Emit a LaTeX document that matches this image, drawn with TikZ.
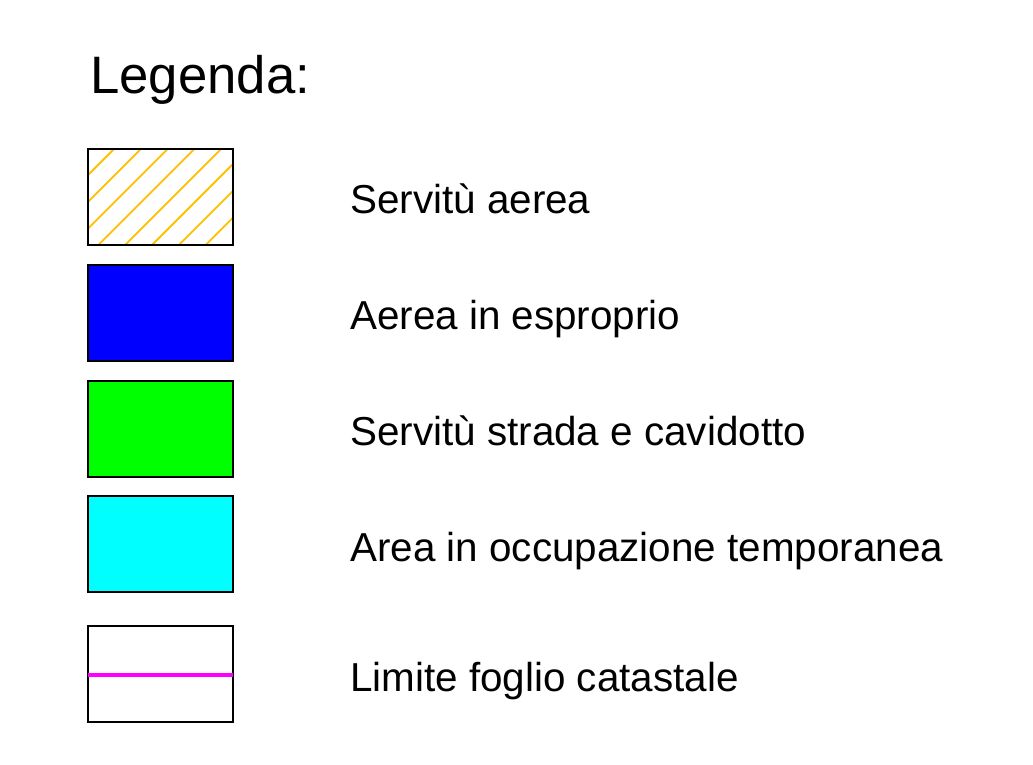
\documentclass[tikz,border=0pt]{standalone}
\usepackage{fontspec}
\setmainfont{Liberation Sans}
\definecolor{hatch}{HTML}{FFC000}
\definecolor{magline}{HTML}{FF00FF}
\begin{document}
\begin{tikzpicture}[x=1pt,y=-1pt,
  legbox/.style={draw=black,line width=1.8pt},
  lab/.style={anchor=base west,inner sep=0pt,font=\fontsize{40.4}{48}\selectfont}]
\useasboundingbox[fill=white] (0,0) rectangle (1033,764);
\node[anchor=base west,inner sep=0pt,font=\fontsize{52.7}{60}\selectfont] (title) at (90,93) {Legenda:};
% box 1 hatched
\begin{scope}
\clip (88,149) rectangle (233,245);
\foreach \k in {0,...,11} {
  \pgfmathsetmacro{\c}{263+26.8*\k}
  \draw[hatch,line width=1.8pt] (\c-149,149) -- (\c-245,245);
}
\end{scope}
\draw[legbox] (88,149) rectangle (233,245);
\node[lab] (l1) at (350,213) {Servitù aerea};
% box 2
\draw[legbox,fill={rgb,255:red,0;green,0;blue,255}] (88,265) rectangle (233,361);
\node[lab] (l2) at (350,329) {Aerea in esproprio};
% box 3
\draw[legbox,fill={rgb,255:red,0;green,255;blue,0}] (88,381) rectangle (233,477);
\node[lab] (l3) at (350,445) {Servitù strada e cavidotto};
% box 4
\draw[legbox,fill={rgb,255:red,0;green,255;blue,255}] (88,496) rectangle (233,592);
\node[lab] (l4) at (350,561) {Area in occupazione temporanea};
% box 5
\draw[legbox] (88,626) rectangle (233,722);
\draw[magline,line width=3.2pt] (88,675) -- (233,675);
\node[lab] (l5) at (350,691) {Limite foglio catastale};
\end{tikzpicture}
\end{document}
